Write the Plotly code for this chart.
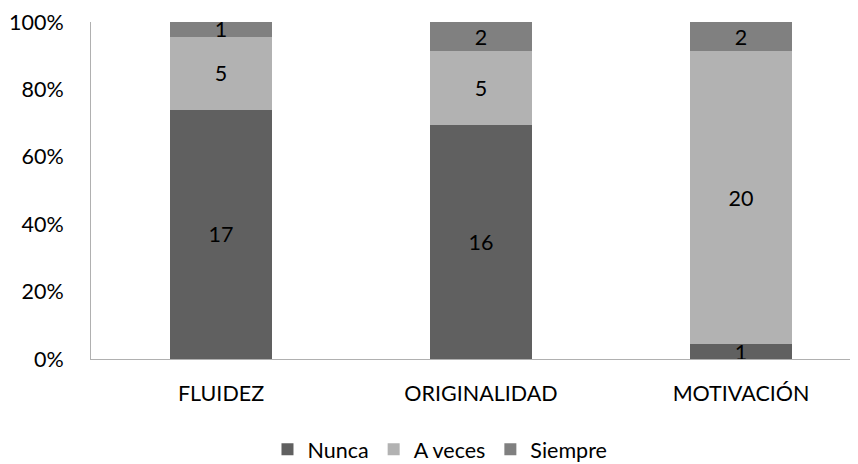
import plotly.graph_objects as go

categories = ["FLUIDEZ", "ORIGINALIDAD", "MOTIVACIÓN"]
nunca = [17, 16, 1]
a_veces = [5, 5, 20]
siempre = [1, 2, 2]
series_names = ["Nunca", "A veces", "Siempre"]
colors = ["#606060", "#b2b2b2", "#808080"]

FONT = "Lato, 'Open Sans', sans-serif"
FS = 21.5

fig = go.Figure()
for name, vals, col in zip(series_names, [nunca, a_veces, siempre], colors):
    fig.add_trace(go.Bar(
        name=name, x=categories, y=vals, marker=dict(color=col, line=dict(width=0)),
        text=[str(v) for v in vals], textposition="inside", insidetextanchor="middle",
        textangle=0, constraintext="none",
        textfont=dict(color="black", size=FS, family=FONT),
        hoverinfo="skip",
    ))

fig.update_layout(
    barmode="stack", barnorm="fraction", bargap=0.608,
    width=850, height=456,
    margin=dict(l=83, r=0, t=14, b=105, autoexpand=False),
    plot_bgcolor="white", paper_bgcolor="white",
    font=dict(family=FONT, size=FS, color="black"),
    uniformtext=dict(minsize=FS, mode="show"),
    showlegend=True,
    legend=dict(orientation="h", x=0.455, xanchor="center", y=-0.268, yanchor="middle",
                font=dict(size=FS), itemwidth=30, traceorder="normal"),
    xaxis=dict(range=[-0.5, 2.45], showline=True, linecolor="#b0b0b0", linewidth=1,
               showgrid=False, ticks="", ticklabelstandoff=15, tickfont=dict(size=FS),
               automargin=False),
    yaxis=dict(range=[0, 1], tickformat=".0%", tickvals=[0, 0.2, 0.4, 0.6, 0.8, 1.0],
               showline=True, linecolor="#b0b0b0", linewidth=1, showgrid=False,
               zeroline=False, ticks="", ticklabelstandoff=22, tickfont=dict(size=FS),
               automargin=False),
)

fig.write_html("out.html")
